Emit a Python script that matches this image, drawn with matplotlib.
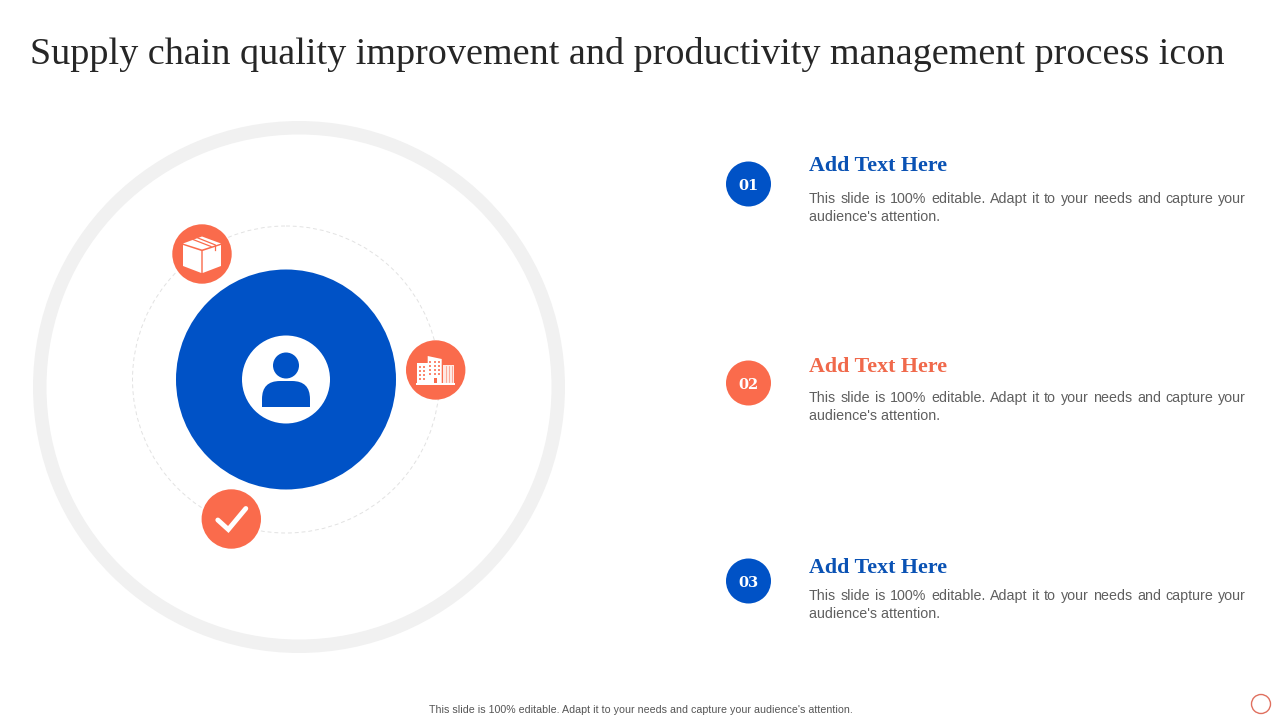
import matplotlib
matplotlib.use("Agg")
import matplotlib.pyplot as plt
from matplotlib.patches import Circle, Wedge, Rectangle, Polygon, FancyBboxPatch

TITLE = "Supply chain quality improvement and productivity management process icon"
HEADINGS = ["Add Text Here", "Add Text Here", "Add Text Here"]
NUMBERS = ["01", "02", "03"]
BODY1 = "This slide is 100% editable. Adapt it to your needs and capture your"
BODY2 = "audience's attention."
FOOTER = "This slide is 100% editable. Adapt it to your needs and capture your audience's attention."
BLUE, ORANGE = "#0052C6", "#FA6B4C"
ROW_COLORS = [BLUE, ORANGE, BLUE]
HEADING_COLORS = ["#0A52B4", "#F0694B", "#0A52B4"]
NUM_Y = [184, 383, 581]
HEAD_Y = [166, 367, 568]
BODY_Y = [199, 398, 596]
BADGES = [(202, 254), (435.7, 370), (231.3, 519)]
SERIF = "Liberation Serif"
SANS = "Liberation Sans"

fig = plt.figure(figsize=(12.8, 7.2), dpi=100, facecolor="white")
ax = fig.add_axes([0, 0, 1, 1])
ax.set_xlim(0, 1280)
ax.set_ylim(720, 0)
ax.axis("off")

ax.text(30, 55, TITLE, family=SERIF, fontsize=27.47, color="#262626", va="center", ha="left")

# Rings and hub
ax.add_patch(Wedge((299, 387), 266, 0, 360, width=13.5, fc="#F1F1F1", ec="none"))
ax.add_patch(Circle((286, 379.5), 153.5, fc="none", ec="#E2E2E2", lw=0.7, ls=(0, (4, 3))))
ax.add_patch(Circle((286, 379.5), 110, fc=BLUE, ec="none"))
ax.add_patch(Circle((286, 379.5), 44, fc="white", ec="none"))
ax.add_patch(Circle((286, 365.5), 13, fc=BLUE, ec="none"))
body = FancyBboxPatch((262, 381), 48, 50, boxstyle="round,pad=0,rounding_size=18", fc=BLUE, ec="none")
ax.add_patch(body)
body.set_clip_path(Rectangle((262, 381), 48, 26, transform=ax.transData))

for (cx, cy) in BADGES:
    ax.add_patch(Circle((cx, cy), 29.7, fc=ORANGE, ec="none", zorder=3))

# Box icon
bx, by = BADGES[0]
W = dict(fc="white", ec="none", zorder=4)
ax.add_patch(Polygon([(bx-19, by-9), (bx-0.7, by-3), (bx-0.7, by+19), (bx-19, by+12)], **W))
ax.add_patch(Polygon([(bx+0.7, by-3), (bx+19, by-9), (bx+19, by+12), (bx+0.7, by+19)], **W))
ax.add_patch(Polygon([(bx-19, by-10.5), (bx, by-17.5), (bx+19, by-10.5), (bx, by-4.5)], **W))
ax.plot([bx-9, bx+9], [by-14.5, by-7.5], color=ORANGE, lw=0.9, zorder=5)
ax.plot([bx-4, bx+13], [by-16, by-9.2], color=ORANGE, lw=0.9, zorder=5)
ax.plot([bx+13, bx+13], [by-9.2, by-4], color=ORANGE, lw=0.9, zorder=5)

# Building icon
bx, by = BADGES[1]
ax.add_patch(Rectangle((bx-18.7, by-7), 10.7, 20, **W))
ax.add_patch(Polygon([(bx-8, by-14), (bx+6, by-11), (bx+6, by+13), (bx-8, by+13)], **W))
ax.add_patch(Rectangle((bx+7, by-5), 11.5, 18, fc="white", alpha=0.85, ec="none", zorder=4))
for x in [bx+10, bx+13, bx+16]:
    ax.plot([x, x], [by-4, by+12], color=ORANGE, lw=0.5, alpha=0.7, zorder=5)
ax.add_patch(Rectangle((bx-19.5, by+12.5), 39, 2, **W))
for col in [bx-16.5, bx-12.5]:
    for row in range(4):
        ax.add_patch(Rectangle((col, by-4+row*4), 2, 2, fc=ORANGE, alpha=0.8, ec="none", zorder=5))
for col in [bx-5.5, bx-1, bx+3]:
    for row in range(4):
        ax.add_patch(Rectangle((col-1, by-9+row*4), 1.8, 2, fc=ORANGE, alpha=0.8, ec="none", zorder=5))
ax.add_patch(Rectangle((bx-1.7, by+8), 3, 4.5, fc=ORANGE, ec="none", zorder=5))

# Check icon
bx, by = BADGES[2]
ax.plot([bx-13.5, bx-3, bx+14.5], [by+1, by+10.5, by-10.5], color="white", lw=3.5,
        solid_capstyle="round", solid_joinstyle="miter", zorder=4)

# Right column
fig.canvas.draw()
rend = fig.canvas.get_renderer()

def justified(y, s, x0=809, x1=1246):
    words = s.split(" ")
    arts = [ax.text(x0, y, w, family=SANS, fontsize=10.3, color="#5F5F5F", va="center", ha="left") for w in words]
    widths = [a.get_window_extent(rend).width for a in arts]
    gap = (x1 - x0 - sum(widths)) / (len(words) - 1)
    x = x0
    for a, w in zip(arts, widths):
        a.set_x(x)
        x += w + gap

for i in range(3):
    ax.add_patch(Circle((748.5, NUM_Y[i]), 22.5, fc=ROW_COLORS[i], ec="none"))
    ax.text(748.5, NUM_Y[i] + 2, NUMBERS[i], family="DejaVu Serif", weight="bold", fontsize=10.5, color="white",
            va="center", ha="center")
    ax.text(809, HEAD_Y[i], HEADINGS[i], family=SERIF, weight="bold", fontsize=15.8, color=HEADING_COLORS[i],
            va="center", ha="left")
    justified(BODY_Y[i], BODY1)
    ax.text(809, BODY_Y[i] + 18, BODY2, family=SANS, fontsize=10.3, color="#5F5F5F", va="center", ha="left")

ax.text(640.5, 710, FOOTER, family=SANS, fontsize=7.7, color="#555555", va="center", ha="center")
ax.add_patch(Circle((1261, 704), 9.5, fc="white", ec="#E0705F", lw=1))

fig.savefig("out.png", dpi=100)
